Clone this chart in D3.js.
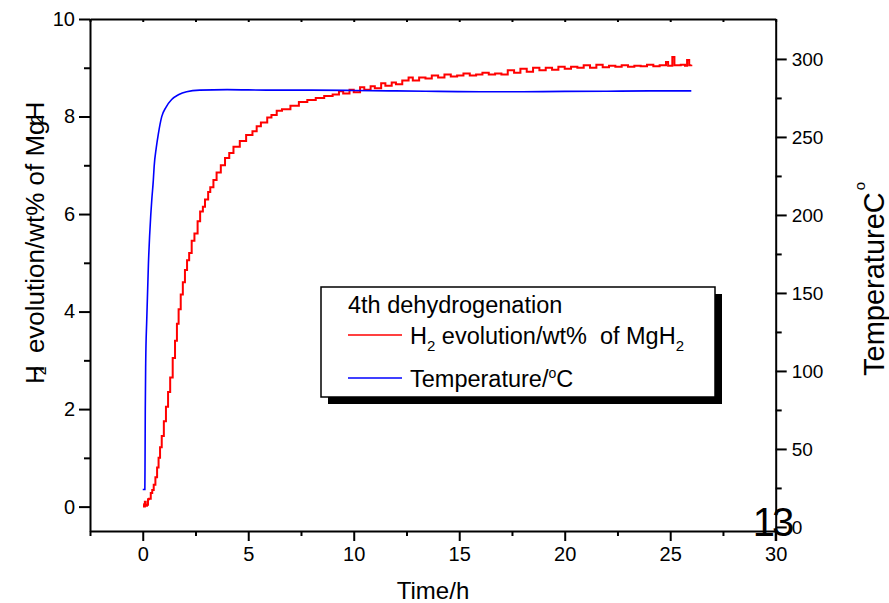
<!DOCTYPE html>
<html lang="en">
<head>
  <meta charset="UTF-8">
  <title>4th dehydrogenation</title>
  <script src="https://cdn.jsdelivr.net/npm/d3@7"></script>
  <style>
    body { margin: 0; background: #fff; }
    text { font-family: "Liberation Sans", Arial, sans-serif; fill: #000; }
  </style>
</head>
<body>
  <script>
    // H2 evolution (left axis, wt%) vs time (h)
    const h2Time = [0.02, 0.06, 0.1, 0.14, 0.2, 0.25, 0.3, 0.38, 0.45, 0.52, 0.6, 0.68, 0.75, 0.82, 0.9,
      1.0, 1.1, 1.2, 1.3, 1.42, 1.53, 1.62, 1.7, 1.8, 1.9, 2.0, 2.1, 2.2, 2.32, 2.45, 2.6, 2.72, 2.85,
      2.95, 3.1, 3.2, 3.35, 3.5, 3.7, 3.9, 4.1, 4.3, 4.6, 4.9, 5.2, 5.4, 5.6, 5.9, 6.1, 6.35, 6.6, 7.0,
      7.4, 7.8, 8.2, 8.6, 9.0, 9.3, 9.5, 9.8, 10.0, 10.3, 10.5, 10.8, 11.0, 11.3, 11.5, 11.8, 12.0,
      12.3, 12.6, 12.8, 13.1, 13.4, 13.7, 14.0, 14.3, 14.6, 14.9, 15.2, 15.5, 15.8, 16.1, 16.4, 16.7,
      17.0, 17.3, 17.6, 17.9, 18.2, 18.5, 18.8, 19.1, 19.4, 19.7, 20.0, 20.3, 20.6, 20.9, 21.2, 21.5,
      21.8, 22.1, 22.4, 22.7, 23.0, 23.3, 23.6, 23.9, 24.2, 24.5, 24.8, 24.9, 25.1, 25.2, 25.5, 25.7,
      25.8, 25.9, 26.0];
    const h2Values = [0.05, 0.0, 0.1, 0.02, 0.04, 0.15, 0.16, 0.28, 0.34, 0.45, 0.6, 0.8, 1.0, 1.22, 1.45,
      1.75, 2.05, 2.35, 2.65, 3.05, 3.4, 3.75, 4.05, 4.35, 4.6, 4.85, 5.05, 5.2, 5.45, 5.6, 5.85, 6.05, 6.15,
      6.3, 6.45, 6.55, 6.7, 6.85, 7.0, 7.15, 7.25, 7.38, 7.5, 7.62, 7.7, 7.8, 7.88, 7.98, 8.03, 8.12, 8.15, 8.22,
      8.3, 8.34, 8.38, 8.42, 8.45, 8.52, 8.47, 8.55, 8.5, 8.6, 8.55, 8.62, 8.58, 8.68, 8.63, 8.7, 8.66,
      8.74, 8.8, 8.74, 8.8, 8.78, 8.84, 8.8, 8.86, 8.82, 8.84, 8.88, 8.84, 8.86, 8.9, 8.86, 8.88,
      8.86, 8.95, 8.9, 8.98, 8.92, 9.0, 8.95, 9.0, 8.96, 9.02, 8.98, 9.02, 9.0, 9.05, 9.0, 9.06,
      9.01, 9.04, 9.02, 9.05, 9.02, 9.04, 9.03, 9.06, 9.03, 9.05, 9.12, 9.04, 9.22, 9.05, 9.06, 9.04,
      9.16, 9.05, 9.06];

    // Temperature (right axis, degC) vs time (h)
    const tempTime = [0, 0.1, 0.11, 0.12, 0.14, 0.19, 0.27, 0.38, 0.43, 0.5, 0.54, 0.64, 0.74, 0.9, 1.1,
      1.37, 1.69, 2.08, 2.7, 4, 6, 8, 10, 12, 14, 16, 18, 20, 22, 24, 26];
    const tempValues = [24, 24, 45, 75, 105, 133, 169, 200, 210, 222, 231, 243, 252, 263, 269,
      274, 277, 279, 280, 280.3, 280, 280, 279.8, 279.5, 279.2, 279, 279, 279.2, 279.3, 279.5, 279.5];

    const xTicks = [0, 5, 10, 15, 20, 25, 30];
    const xMinor = [-2.5, 2.5, 7.5, 12.5, 17.5, 22.5, 27.5];
    const leftTicks = [0, 2, 4, 6, 8, 10];
    const leftMinor = [1, 3, 5, 7, 9];
    const rightTicks = [0, 50, 100, 150, 200, 250, 300];
    const rightMinor = [25, 75, 125, 175, 225, 275];

    const W = 889, H = 603;
    const plotL = 90, plotR = 775.7, plotT = 19, plotB = 531;

    const svg = d3.select("body").append("svg")
      .attr("width", W)
      .attr("height", H);

    const x = d3.scaleLinear().domain([-2.5, 30]).range([plotL, plotR]);
    const yL = d3.scaleLinear().domain([-0.5, 10]).range([plotB, plotT]);
    const yR = d3.scaleLinear().domain([-2.6, 325.6]).range([plotB, plotT]);

    // data lines
    const h2 = h2Time.map((t, i) => [t, h2Values[i]]);
    const temp = tempTime.map((t, i) => [t, tempValues[i]]);

    svg.append("path")
      .datum(h2)
      .attr("fill", "none")
      .attr("stroke", "#ff0000")
      .attr("stroke-width", 2)
      .attr("d", d3.line().x(d => x(d[0])).y(d => yL(d[1])).curve(d3.curveStepAfter));

    svg.append("path")
      .datum(temp)
      .attr("fill", "none")
      .attr("stroke", "#0000ff")
      .attr("stroke-width", 1.6)
      .attr("d", d3.line().x(d => x(d[0])).y(d => yR(d[1])).curve(d3.curveMonotoneX));

    // axes
    const styleAxis = (g, fontSize) => {
      g.selectAll("path, line").attr("stroke", "#000").attr("stroke-width", 2);
      g.selectAll("text").style("font-size", fontSize + "px").attr("fill", "#000");
    };

    svg.append("g")
      .attr("transform", `translate(0,${plotB})`)
      .call(d3.axisBottom(x).tickValues(xTicks).tickSize(10).tickSizeOuter(0).tickPadding(6))
      .call(g => styleAxis(g, 20));
    svg.append("g")
      .attr("transform", `translate(0,${plotB})`)
      .call(d3.axisBottom(x).tickValues(xMinor).tickSize(5).tickFormat(""))
      .call(g => g.select(".domain").remove())
      .call(g => styleAxis(g, 20));

    svg.append("g")
      .attr("transform", `translate(0,${plotT})`)
      .call(d3.axisTop(x).tickValues(xTicks.concat(xMinor)).tickSize(-3).tickSizeOuter(0).tickFormat(""))
      .call(g => styleAxis(g, 20));

    svg.append("g")
      .attr("transform", `translate(${plotL},0)`)
      .call(d3.axisLeft(yL).tickValues(leftTicks).tickSize(11).tickSizeOuter(0).tickPadding(4))
      .call(g => styleAxis(g, 20));
    svg.append("g")
      .attr("transform", `translate(${plotL},0)`)
      .call(d3.axisLeft(yL).tickValues(leftMinor).tickSize(6).tickFormat(""))
      .call(g => g.select(".domain").remove())
      .call(g => styleAxis(g, 20));

    svg.append("g")
      .attr("transform", `translate(${plotR},0)`)
      .call(d3.axisRight(yR).tickValues(rightTicks).tickSize(11).tickSizeOuter(0).tickPadding(5))
      .call(g => styleAxis(g, 19));
    svg.append("g")
      .attr("transform", `translate(${plotR},0)`)
      .call(d3.axisRight(yR).tickValues(rightMinor).tickSize(6).tickFormat(""))
      .call(g => g.select(".domain").remove())
      .call(g => styleAxis(g, 19));

    // right axis runs a little past the frame bottom
    svg.append("line")
      .attr("x1", plotR).attr("x2", plotR)
      .attr("y1", plotB).attr("y2", plotB + 10)
      .attr("stroke", "#000").attr("stroke-width", 2);

    // axis titles
    svg.append("text")
      .attr("x", 433).attr("y", 599)
      .attr("text-anchor", "middle")
      .style("font-size", "24px")
      .text("Time/h");

    const yTitle = svg.append("text")
      .attr("transform", "translate(44,384) rotate(-90)")
      .style("font-size", "26px")
      .style("white-space", "pre");
    yTitle.append("tspan").text("H");
    yTitle.append("tspan").attr("dx", -10).attr("dy", 2).style("font-size", "16px").text("2");
    yTitle.append("tspan").attr("dx", 6).attr("dy", -2).text(" evolution/wt% of MgH");
    yTitle.append("tspan").attr("dx", -22).attr("dy", -1).style("font-size", "16px").text("2");

    const rTitle = svg.append("text")
      .attr("transform", "translate(884,376) rotate(-90)")
      .style("font-size", "29px");
    rTitle.append("tspan").text("TemperatureC");
    rTitle.append("tspan").attr("dx", 2).attr("dy", -19).style("font-size", "15px").text("o");

    // stray "13" over the bottom-right corner
    svg.append("text")
      .attr("x", 772).attr("y", 536)
      .attr("text-anchor", "middle")
      .style("font-size", "40px")
      .style("letter-spacing", "-3px")
      .text("13");

    // legend
    const lg = svg.append("g");
    lg.append("rect")
      .attr("x", 328).attr("y", 294)
      .attr("width", 394).attr("height", 110)
      .attr("fill", "#000");
    lg.append("rect")
      .attr("x", 321).attr("y", 287)
      .attr("width", 394).attr("height", 110)
      .attr("fill", "#fff")
      .attr("stroke", "#000")
      .attr("stroke-width", 1.5);
    lg.append("text")
      .attr("x", 348).attr("y", 313)
      .style("font-size", "23.5px")
      .text("4th dehydrogenation");

    lg.append("line")
      .attr("x1", 348).attr("x2", 402).attr("y1", 335).attr("y2", 335)
      .attr("stroke", "#ff0000").attr("stroke-width", 1.5);
    const l1 = lg.append("text")
      .attr("x", 410).attr("y", 344)
      .style("font-size", "23.5px")
      .style("white-space", "pre");
    l1.append("tspan").text("H");
    l1.append("tspan").attr("dy", 7).style("font-size", "15px").text("2");
    l1.append("tspan").attr("dy", -7).text(" evolution/wt%  of MgH");
    l1.append("tspan").attr("dy", 7).style("font-size", "15px").text("2");

    lg.append("line")
      .attr("x1", 348).attr("x2", 402).attr("y1", 378).attr("y2", 378)
      .attr("stroke", "#0000ff").attr("stroke-width", 1.5);
    const l2 = lg.append("text")
      .attr("x", 410).attr("y", 387)
      .style("font-size", "23.5px");
    l2.append("tspan").text("Temperature/");
    l2.append("tspan").attr("dy", -9).style("font-size", "14px").text("o");
    l2.append("tspan").attr("dy", 9).text("C");
  </script>
</body>
</html>
